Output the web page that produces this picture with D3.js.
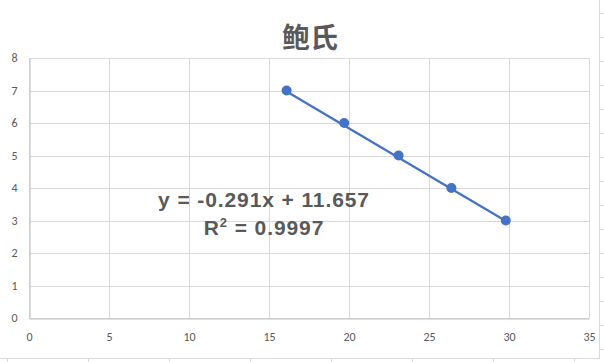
<!DOCTYPE html>
<html>
<head>
<meta charset="utf-8">
<script src="https://cdn.jsdelivr.net/npm/d3@7"></script>
<style>
  body { margin: 0; background: #fff; }
  .tick text { font-family: Calibri, Carlito, "Liberation Sans", Arial, sans-serif; }
</style>
</head>
<body>
<div id="chart"></div>
<script>
// data
var xValues = [16.1, 19.7, 23.1, 26.4, 29.8];
var yValues = [7, 6, 5, 4, 3];
var xTicks = [0, 5, 10, 15, 20, 25, 30, 35];
var yTicks = [0, 1, 2, 3, 4, 5, 6, 7, 8];
var chartTitle = '鲍氏';
var slope = -0.291;
var intercept = 11.657;
var rSquared = '0.9997';

var width = 604, height = 362;
var margin = { top: 58, right: 15, bottom: 44, left: 29 };

var svg = d3.select('#chart').append('svg')
  .attr('width', width)
  .attr('height', height);

// sheet cell lines peeking around the chart frame
var sheet = svg.append('g').attr('stroke', '#d9d9d9').attr('stroke-width', 1);
sheet.append('line').attr('x1', 599.5).attr('x2', 599.5).attr('y1', 0).attr('y2', 358);
sheet.append('line').attr('x1', 0).attr('x2', 600).attr('y1', 358.5).attr('y2', 358.5);
d3.range(13, 358, 24).forEach(function(y) {
  sheet.append('line').attr('x1', 600).attr('x2', 604).attr('y1', y + 0.5).attr('y2', y + 0.5);
});
d3.range(7, 604, 81).forEach(function(x) {
  sheet.append('line').attr('x1', x + 0.5).attr('x2', x + 0.5).attr('y1', 358).attr('y2', 362);
});

var x = d3.scaleLinear().domain([0, 35]).range([margin.left, 589]);
var y = d3.scaleLinear().domain([0, 8]).range([318, margin.top]);

// gridlines
var grid = svg.append('g');
grid.selectAll('line.h')
  .data(yTicks)
  .enter().append('line')
  .attr('x1', x(0)).attr('x2', x(35))
  .attr('y1', d => Math.round(y(d)) + 0.5)
  .attr('y2', d => Math.round(y(d)) + 0.5)
  .attr('stroke', '#d9d9d9');
grid.selectAll('line.v')
  .data(xTicks)
  .enter().append('line')
  .attr('y1', y(0)).attr('y2', y(8))
  .attr('x1', d => Math.round(x(d)) + 0.5)
  .attr('x2', d => Math.round(x(d)) + 0.5)
  .attr('stroke', '#d9d9d9');

// axes
var xAxis = svg.append('g')
  .attr('transform', 'translate(0,' + (Math.round(y(0)) + 0.5) + ')')
  .call(d3.axisBottom(x).tickValues(xTicks).tickSize(0).tickPadding(14));
xAxis.select('.domain').attr('stroke', '#bfbfbf');

var yAxis = svg.append('g')
  .attr('transform', 'translate(' + (Math.round(x(0)) + 0.5) + ',0)')
  .call(d3.axisLeft(y).tickValues(yTicks).tickSize(0).tickPadding(12));
yAxis.select('.domain').attr('stroke', '#bfbfbf');

svg.selectAll('.tick text')
  .attr('fill', '#595959')
  .style('font-size', '12px');

// title
svg.append('text')
  .attr('x', 310)
  .attr('y', 48)
  .attr('text-anchor', 'middle')
  .attr('fill', '#595959')
  .style('font-family', '"Noto Sans CJK SC", sans-serif')
  .style('font-size', '28px')
  .style('font-weight', 'bold')
  .text(chartTitle);

var blue = '#4472c4';

// linear trendline over the data range
var xMin = d3.min(xValues), xMax = d3.max(xValues);
svg.append('line')
  .attr('x1', x(xMin)).attr('y1', y(slope * xMin + intercept))
  .attr('x2', x(xMax)).attr('y2', y(slope * xMax + intercept))
  .attr('stroke', blue)
  .attr('stroke-width', 2.25);

var pts = xValues.map((v, i) => [v, yValues[i]]);
svg.selectAll('circle')
  .data(pts)
  .enter().append('circle')
  .attr('cx', d => x(d[0]))
  .attr('cy', d => y(d[1]))
  .attr('r', 5)
  .attr('fill', blue);

// equation label
var eqStyle = function(t) {
  t.attr('fill', '#595959')
    .attr('text-anchor', 'middle')
    .style('font-family', '"Liberation Sans", Arial, sans-serif')
    .style('font-size', '21px')
    .style('letter-spacing', '0.9px')
    .style('font-weight', 'bold');
};
svg.append('text')
  .call(eqStyle)
  .attr('x', 264).attr('y', 207)
  .text('y = ' + slope + 'x + ' + intercept);
var r2 = svg.append('text').call(eqStyle).attr('x', 264).attr('y', 235);
r2.append('tspan').text('R');
r2.append('tspan').attr('dy', -8).style('font-size', '13px').text('2');
r2.append('tspan').attr('dy', 8).text(' = ' + rSquared);
</script>
</body>
</html>
